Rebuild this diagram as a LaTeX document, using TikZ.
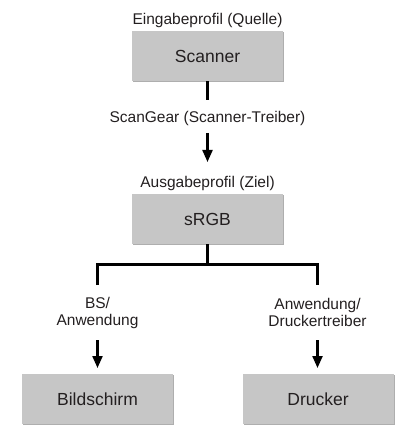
\documentclass[tikz,border=0pt]{standalone}
\usepackage{fontspec}
\setmainfont{Liberation Sans}
\usetikzlibrary{arrows.meta,shadows}
\definecolor{boxgray}{HTML}{C6C6C6}
\definecolor{txt}{HTML}{231F20}
\begin{document}
\begin{tikzpicture}[x=1pt,y=-1pt,
  box/.style={draw=none,fill=boxgray,minimum width=151pt,minimum height=50pt,
    inner sep=0pt,font=\fontsize{17.5}{20}\selectfont,text=txt,
    drop shadow={shadow xshift=1.3pt,shadow yshift=-1.3pt,fill=black!45,opacity=0.7}},
  lbl/.style={font=\fontsize{15.5}{17}\selectfont,text=txt,inner sep=0pt,align=center},
  conn/.style={line width=2.2pt,black},
  arr/.style={conn,-{Triangle[length=12pt,width=10pt]}}]
\useasboundingbox (0,0) rectangle (416,446);
\node[box] (scan) at (207.5,56) {Scanner};
\node[lbl] (ein) at (207.5,20) {Eingabeprofil (Quelle)};
\node[lbl] (sg) at (207.5,118) {ScanGear (Scanner-Treiber)};
\coordinate (a1) at (207.5,100);
\coordinate (a2) at (207.5,133);
\coordinate (a3) at (207.5,162);
\node[lbl] (aus) at (207.5,183) {Ausgabeprofil (Ziel)};
\node[box] (srgb) at (207.5,219) {sRGB};
\coordinate (j) at (207.5,264.5);
\coordinate (jl) at (97.5,264.5);
\coordinate (jr) at (317.5,264.5);
\coordinate (ll) at (97.5,285);
\coordinate (lr) at (317.5,285);
\node[lbl] (bs) at (97.5,312.5) {BS/\\Anwendung};
\node[lbl] (dt) at (317.5,312.5) {Anwendung/\\Druckertreiber};
\coordinate (bl1) at (97.5,340);
\coordinate (bl2) at (97.5,368);
\coordinate (br1) at (317.5,340);
\coordinate (br2) at (317.5,368);
\node[box] (bild) at (97.5,399) {Bildschirm};
\node[box] (druck) at (318,399) {Drucker};
\draw[conn] (scan.south) -- (a1);
\draw[arr] (a2) -- (a3);
\draw[conn] (srgb.south) -- (j);
\draw[conn] (ll) -- (jl) -- (jr) -- (lr);
\draw[arr] (bl1) -- (bl2);
\draw[arr] (br1) -- (br2);
\end{tikzpicture}
\end{document}
